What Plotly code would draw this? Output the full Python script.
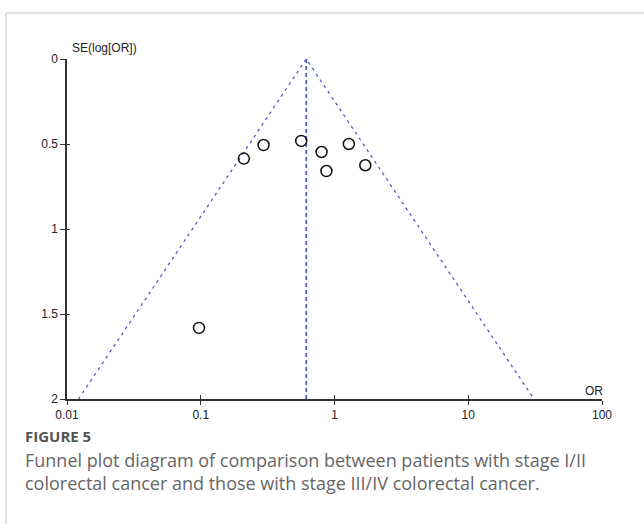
import math
import plotly.graph_objects as go

# ---- data ----
study_or = [0.097, 0.21, 0.295, 0.564, 0.80, 0.87, 1.28, 1.70]
study_se = [1.582, 0.586, 0.506, 0.482, 0.547, 0.659, 0.50, 0.625]
pooled_or = 0.615
se_max = 2.0
x_tick_vals = [0.01, 0.1, 1, 10, 100]
x_tick_text = ["0.01", "0.1", "1", "10", "100"]
y_tick_vals = [0, 0.5, 1, 1.5, 2]
y_tick_text = ["0", "0.5", "1", "1.5", "2"]

# funnel limits (95% pseudo-CI)
lo_or = math.exp(math.log(pooled_or) - 1.96 * se_max)
hi_or = math.exp(math.log(pooled_or) + 1.96 * se_max)

W, H = 644, 524
L, R, T, B = 67, 42, 59, 125
pw, ph = W - L - R, H - T - B

def px(x):
    return (x - L) / pw

def py(y):
    return (T + ph - y) / ph

line_col = "#4f5fbf"
axis_col = "#333333"
tick_font = dict(family="Liberation Sans, Arial, sans-serif", size=12, color="#222222")

fig = go.Figure()
fig.add_trace(go.Scatter(x=[lo_or, pooled_or, hi_or], y=[se_max, 0, se_max], mode="lines",
                         line=dict(color=line_col, width=1.3, dash="3px,4px"), hoverinfo="skip"))
fig.add_trace(go.Scatter(x=[pooled_or, pooled_or], y=[0, se_max], mode="lines",
                         line=dict(color=line_col, width=1.8, dash="4px,3px"), hoverinfo="skip"))
fig.add_trace(go.Scatter(x=study_or, y=study_se, mode="markers",
                         marker=dict(symbol="circle-open", size=11, color="#111111",
                                     line=dict(width=1.5, color="#111111"))))
# invisible trace on secondary axes for inside ticks
fig.add_trace(go.Scatter(x=[0.01], y=[2], xaxis="x2", yaxis="y2", mode="markers",
                         marker=dict(opacity=0), hoverinfo="skip"))

fig.update_layout(
    width=W, height=H, showlegend=False,
    paper_bgcolor="white", plot_bgcolor="white",
    margin=dict(l=L, r=R, t=T, b=B),
    xaxis=dict(type="log", range=[-2, 2], tickvals=x_tick_vals, ticktext=x_tick_text,
               showgrid=False, zeroline=False, showline=True, linecolor=axis_col, linewidth=1.5,
               ticks="outside", ticklen=4, tickwidth=1.3, tickcolor=axis_col, tickfont=tick_font),
    yaxis=dict(range=[2, 0], tickvals=y_tick_vals, ticktext=y_tick_text,
               showgrid=False, zeroline=False, showline=True, linecolor=axis_col, linewidth=1.5,
               ticks="outside", ticklen=5, tickwidth=1.3, tickcolor=axis_col, tickfont=tick_font),
    xaxis2=dict(type="log", range=[-2, 2], overlaying="x", tickvals=x_tick_vals,
                showticklabels=False, showgrid=False, zeroline=False,
                ticks="inside", ticklen=4, tickwidth=1.3, tickcolor=axis_col),
    yaxis2=dict(range=[2, 0], overlaying="y", tickvals=y_tick_vals,
                showticklabels=False, showgrid=False, zeroline=False,
                ticks="inside", ticklen=3, tickwidth=1.3, tickcolor=axis_col),
)

fig.add_annotation(text="SE(log[OR])", xref="paper", yref="paper", x=px(70), y=py(48),
                   xanchor="left", yanchor="middle", showarrow=False, font=tick_font)
fig.add_annotation(text="OR", xref="paper", yref="paper", x=px(594), y=py(391),
                   xanchor="center", yanchor="middle", showarrow=False, font=tick_font)

# card border
fig.add_shape(type="line", xref="paper", yref="paper", x0=px(6), x1=px(660), y0=py(13), y1=py(13),
              line=dict(color="#d9d9d9", width=1.5))
fig.add_shape(type="line", xref="paper", yref="paper", x0=px(6), x1=px(6), y0=py(13), y1=py(540),
              line=dict(color="#d9d9d9", width=1.5))

fig.add_annotation(text="<b>FIGURE 5</b>", xref="paper", yref="paper", x=px(23), y=py(436),
                   xanchor="left", yanchor="middle", showarrow=False,
                   font=dict(family="Open Sans, sans-serif", size=15, color="#555555"))
fig.add_annotation(text="Funnel plot diagram of comparison between patients with stage I/II<br>"
                        "colorectal cancer and those with stage III/IV colorectal cancer.",
                   xref="paper", yref="paper", x=px(23), y=py(472),
                   xanchor="left", yanchor="middle", align="left", showarrow=False,
                   font=dict(family="Open Sans, sans-serif", size=18, color="#666666"))

fig.write_html("out.html", config={"displayModeBar": False},
               post_script="document.body.style.margin='0';")
